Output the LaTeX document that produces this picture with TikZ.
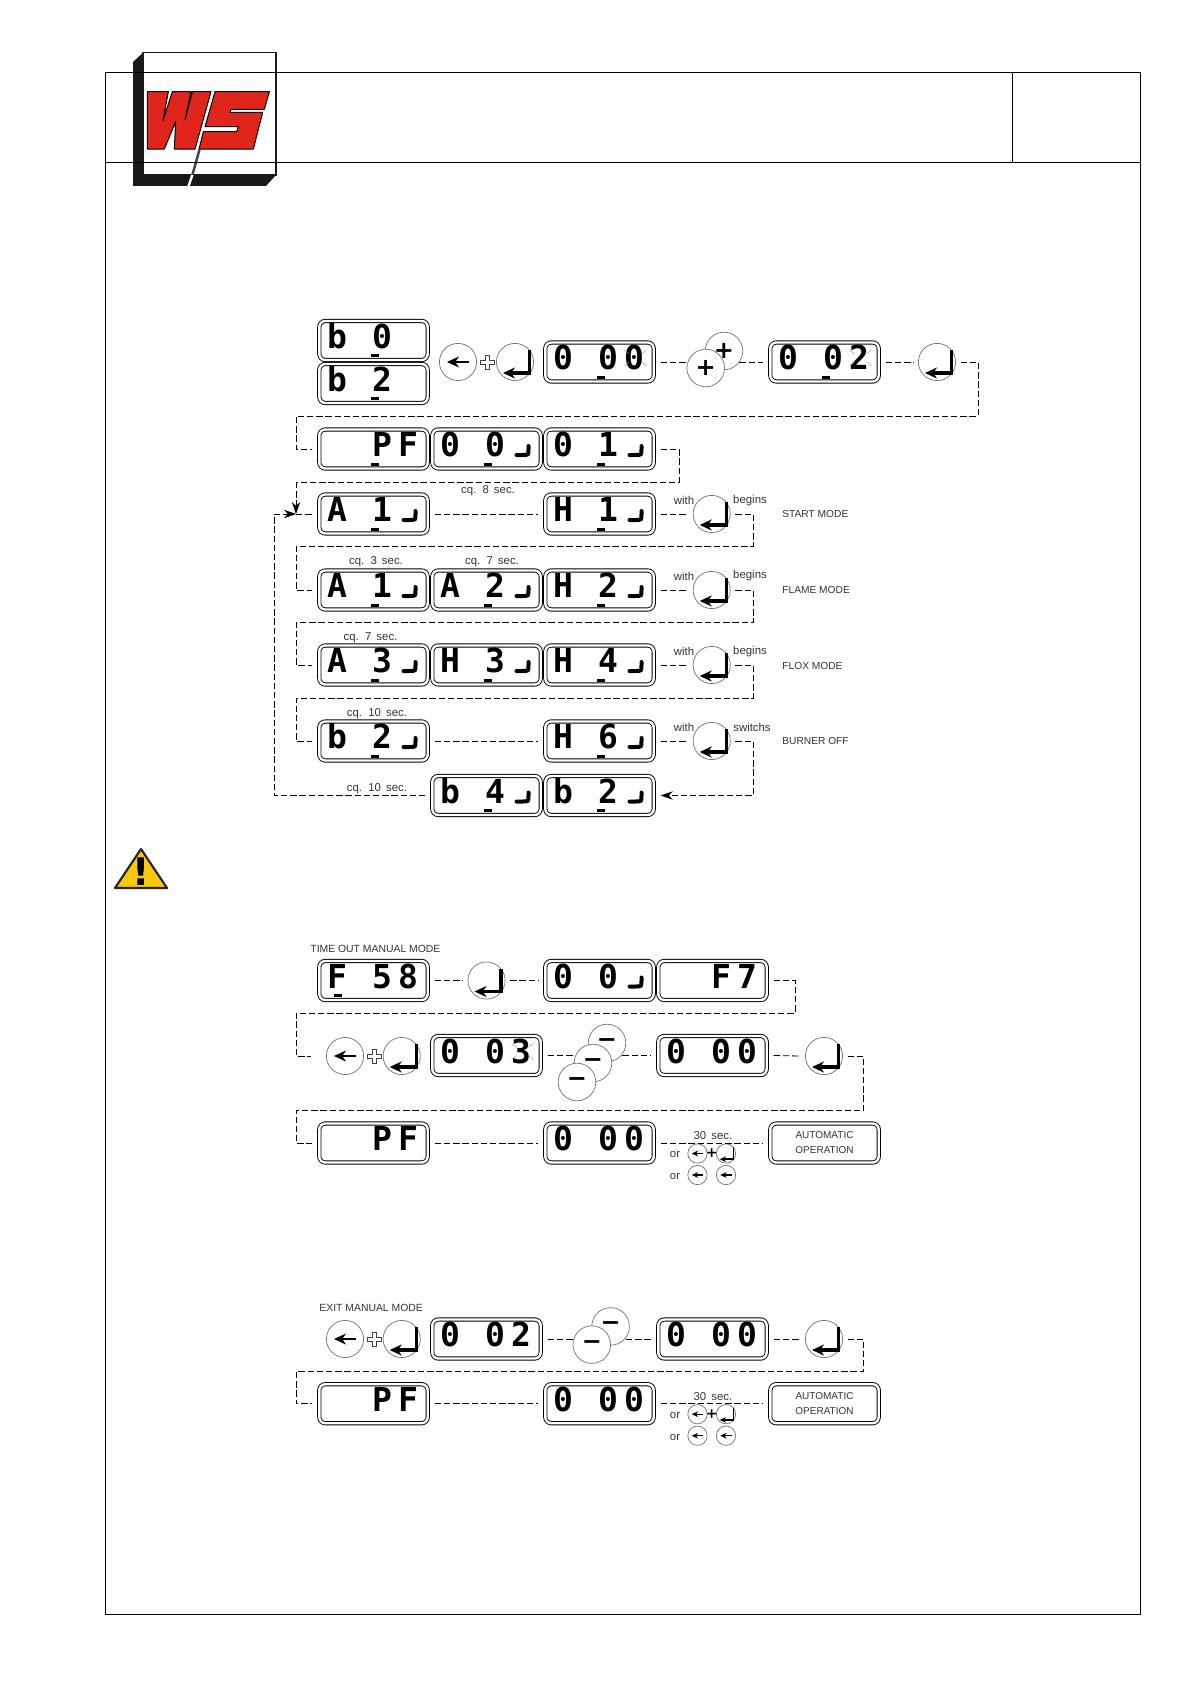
\documentclass[tikz,border=0pt]{standalone}
\usepackage{fontspec}
\setmainfont{Liberation Sans}
\newfontfamily\lcdfont{DejaVu Sans Mono}
\newfontfamily\keyfont{DejaVu Sans}
\usetikzlibrary{
    arrows.meta,
    backgrounds
}
\definecolor{wsred}{rgb}{0.88, 0.15, 0.11}
\definecolor{signyellow}{rgb}{0.98, 0.78, 0.05}
\newcommand{\notefont}{\fontsize{5.7}{6}\selectfont\setlength{\spaceskip}{0.45em}}
\tikzstyle{lcd} = [
    draw=black,
    double,
    double distance=1.2pt,
    line width=0.45pt,
    rounded corners=3pt,
    minimum width=54.2pt,
    minimum height=19.5pt,
    inner sep=0pt,
    outer sep=3.5pt,
    font=\fontsize{16.5}{16.5}\lcdfont\bfseries
]
\tikzstyle{keybtn} = [
    circle,
    draw=black!55,
    fill=white,
    line width=0.35pt,
    inner sep=0pt,
    outer sep=2.5pt
]
\tikzstyle{keyop} = [
    keybtn,
    outer sep=0pt,
    minimum size=18.8pt,
    font=\fontsize{12}{12}\keyfont\bfseries
]
\tikzstyle{conn} = [
    draw=black,
    line width=0.4pt,
    dash pattern=on 3.2pt off 1.4pt
]
\tikzstyle{tip} = [
    -{Stealth[length=6pt,width=4.2pt]}
]
\tikzstyle{note} = [
    inner sep=0pt,
    yshift=-0.7pt,
    text=black!80,
    font=\notefont
]
\tikzstyle{modetxt} = [
    inner sep=0pt,
    anchor=west,
    yshift=-0.5pt,
    text=black!80,
    font=\fontsize{5.1}{6}\selectfont
]
\tikzstyle{segline} = [
    line width=2pt,
    line cap=round
]
\tikzstyle{blinkline} = [
    draw=black!45,
    line width=0.2pt
]
\tikzstyle{frameline} = [
    draw=black,
    line width=0.5pt
]
% one display: name, left edge, middle height, three cells
\newcommand{\lcd}[6]{
    \node[lcd] (#1) at (#2+56.5,#3)
        {\smash{\raisebox{-3.8pt}{\makebox[0pt]{#4}\hspace{22.5pt}\makebox[0pt]{#5}\hspace{13pt}\makebox[0pt]{#6}\kern1pt}}};
}
\newcommand{\lcdcursor}[2][0]{
    \fill[shift={(#2.center)}] (#1-3,13.7) rectangle (#1+5,16.7);
}
\newcommand{\lcdhook}[1]{
    \draw[segline,shift={(#1.center)}] (42,-3) -- (42,0) .. controls (42,6) .. (36,6) -- (30,6);
}
\newcommand{\lcdblink}[1]{
    \foreach \sx in {-1,1} \foreach \sy in {-1,1}
        \draw[blinkline,shift={(#1.center)}] (36+\sx*11,-4+\sy*8) -- (36+\sx*6,-4+\sy*4);
}
% keys: [scale] name, x, y
\newcommand{\keyArrow}[4][1]{
    \node[keybtn,minimum size=#1*18.6pt] (#2) at (#3,#4) {};
    \draw[line width=#1*1.3pt,-{Stealth[length=6pt,width=5.5pt,scale=#1]},shift={(#2.center)},scale=#1] (11,0) -- (-11,0);
}
\newcommand{\keyEnter}[4][1]{
    \node[keybtn,minimum size=#1*18.6pt] (#2) at (#3,#4) {};
    \draw[line width=#1*1.6pt,-{Stealth[length=6pt,width=5.5pt,scale=#1]},shift={(#2.center)},scale=#1] (14.5,-12) -- (14.5,11) -- (-12,11);
}
\newcommand{\plusmark}[3]{
    \coordinate (#1) at (#2,#3);
    \draw[draw=black!75,fill=white,line width=0.3pt,shift={(#1)}] (-2,-7) -- (2,-7) -- (2,-2) -- (7,-2) -- (7,2) -- (2,2) -- (2,7) -- (-2,7) -- (-2,2) -- (-7,2) -- (-7,-2) -- (-2,-2) -- cycle;
}
% the block at the end of a manual mode row
\newcommand{\autoblock}[2]{
    \node[lcd,font=\fontsize{5}{7.5}\selectfont,align=center,text=black!80] (lcdAuto#1) at (824.5,#2) {AUTOMATIC\\OPERATION};
    \node[note] (lblThirty#1) at (713,#2-9) {30 sec.};
    \node[note] (lblOrA#1) at (675,#2+10) {or};
    \node[note] (lblOrB#1) at (675,#2+32) {or};
    \keyArrow[0.52]{smallArrowA#1}{697.5}{#2+10.5}
    \node[inner sep=0pt,font=\fontsize{7}{7}\keyfont\bfseries] (smallPlus#1) at (711.7,#2+10.5) {+};
    \keyEnter[0.52]{smallEnter#1}{726}{#2+10.5}
    \keyArrow[0.52]{smallArrowB#1}{697.5}{#2+32}
    \keyArrow[0.52]{smallArrowC#1}{726}{#2+32}
}

\begin{document}
\begin{tikzpicture}[x=0.5pt, y=-0.5pt]
    \useasboundingbox (0,0) rectangle (1190,1684);

    % Logo
    \fill[black!90] (133,62) -- (143,52.7) -- (143,175) -- (276,175) -- (266,186) -- (133,186) -- cycle;
    \draw[black!90, line width=0.8pt, fill=white] (143,52.7) rectangle (276,175);
    \begin{scope}[shift={(135,80)}, x=0.1667pt, y=-0.1667pt]
        \draw[fill=wsred, line width=0.5pt, line join=round] (37,35) -- (100,35) -- (84,122) -- (112,35) -- (168,35) -- (150,120) -- (172,35) -- (228,35) -- (180,207) -- (118,207) -- (122,125) -- (88,207) -- (37,207) -- cycle;
        \draw[fill=wsred, line width=0.5pt, line join=round] (240,35) -- (403,35) -- (388,88) -- (288,88) -- (285,97) -- (383,97) -- (355,207) -- (192,207) -- (205,155) -- (305,155) -- (310,140) -- (210,140) -- cycle;
        \draw[black!75, line width=1.2pt] (194,207) -- (172,285);
        \draw[white, line width=1.2pt] (172,285) -- (160,320);
    \end{scope}

    % Page frame
    \draw[frameline] (105,72.7) rectangle (1140.6,1614);
    \draw[frameline] (105,162.3) -- (1140.6,162.3);
    \draw[frameline] (1012,72.7) -- (1012,162.3);

    % Start of the sequence
    \lcd{lcdBnull}{317}{340.5}{b}{0}{}
    \lcdcursor{lcdBnull}
    \lcd{lcdBtwo}{317}{383.5}{b}{2}{}
    \lcdcursor{lcdBtwo}
    \keyArrow{keyArrowA}{458}{362}
    \plusmark{plusA}{487.7}{362}
    \keyEnter{keyEnterA}{515}{362}
    \lcd{lcdNullA}{543}{362}{0}{0}{0}
    \lcdcursor{lcdNullA}
    \lcdblink{lcdNullA}
    \node[keyop] (keyPlusA) at (724,351) {+};
    \node[keyop] (keyPlusB) at (705.7,368) {+};
    \lcd{lcdNullB}{768}{362}{0}{0}{2}
    \lcdcursor{lcdNullB}
    \lcdblink{lcdNullB}
    \keyEnter{keyEnterB}{937}{362}
    \coordinate (turnA) at (978,416);
    \coordinate (turnB) at (296,416);
    \draw[conn] (lcdNullA.east) -- (keyPlusB.west |- lcdNullA.east);
    \draw[conn] (keyPlusA.-35 |- lcdNullB.west) -- (lcdNullB.west);
    \draw[conn] (lcdNullB.east) -- (keyEnterB.west);

    % Second row
    \lcd{lcdPF}{317}{449}{}{P}{F}
    \lcdcursor{lcdPF}
    \lcd{lcdNullC}{430}{449}{0}{0}{}
    \lcdcursor{lcdNullC}
    \lcdhook{lcdNullC}
    \lcd{lcdNullD}{543}{449}{0}{1}{}
    \lcdcursor{lcdNullD}
    \lcdhook{lcdNullD}
    \draw[conn] (keyEnterB.east) -| (turnA) -- (turnB) |- (lcdPF.west);
    \coordinate (turnC) at (679,482);
    \coordinate (turnD) at (296,482);
    \coordinate (turnE) at (296,514);
    \coordinate (turnF) at (274,514);
    \draw[conn] (lcdNullD.east) -| (turnC) -- (turnD);
    \draw[conn, tip] (turnD) -- (turnE);

    % Start mode
    \node[note] (lblEight) at (488,489) {cq. 8 sec.};
    \lcd{lcdAone}{317}{514}{A}{1}{}
    \lcdcursor{lcdAone}
    \lcdhook{lcdAone}
    \lcd{lcdHone}{543}{514}{H}{1}{}
    \lcdcursor{lcdHone}
    \lcdhook{lcdHone}
    \keyEnter{keyEnterC}{711.7}{514}
    \node[note] (lblWithA) at (684,499) {with};
    \node[note] (lblBeginsA) at (750,499) {begins};
    \node[modetxt] (lblStart) at (782,513) {START MODE};
    \draw[conn] (turnE) -- (lcdAone.west);
    \draw[conn] (lcdAone.east) -- (lcdHone.west);
    \draw[conn] (lcdHone.east) -- (keyEnterC.west);
    \coordinate (turnG) at (753,546);
    \coordinate (turnH) at (296,546);

    % Flame mode
    \node[note] (lblThree) at (376,560.6) {cq. 3 sec.};
    \node[note] (lblSeven) at (492,560.6) {cq. 7 sec.};
    \lcd{lcdAoneB}{317}{590}{A}{1}{}
    \lcdcursor{lcdAoneB}
    \lcdhook{lcdAoneB}
    \lcd{lcdAtwo}{430}{590}{A}{2}{}
    \lcdcursor{lcdAtwo}
    \lcdhook{lcdAtwo}
    \lcd{lcdHtwo}{543}{590}{H}{2}{}
    \lcdcursor{lcdHtwo}
    \lcdhook{lcdHtwo}
    \keyEnter{keyEnterD}{711.7}{590}
    \node[note] (lblWithB) at (684,574.6) {with};
    \node[note] (lblBeginsB) at (750,574.6) {begins};
    \node[modetxt] (lblFlame) at (782,589) {FLAME MODE};
    \draw[conn] (keyEnterC.east) -| (turnG) -- (turnH) |- (lcdAoneB.west);
    \draw[conn] (lcdHtwo.east) -- (keyEnterD.west);
    \coordinate (turnI) at (753,622.5);
    \coordinate (turnJ) at (296,622.5);

    % Flox mode
    \node[note] (lblSevenB) at (370.5,636) {cq. 7 sec.};
    \lcd{lcdAthree}{317}{665}{A}{3}{}
    \lcdcursor{lcdAthree}
    \lcdhook{lcdAthree}
    \lcd{lcdHthree}{430}{665}{H}{3}{}
    \lcdcursor{lcdHthree}
    \lcdhook{lcdHthree}
    \lcd{lcdHfour}{543}{665}{H}{4}{}
    \lcdcursor{lcdHfour}
    \lcdhook{lcdHfour}
    \keyEnter{keyEnterE}{711.7}{665}
    \node[note] (lblWithC) at (684,650) {with};
    \node[note] (lblBeginsC) at (750,650) {begins};
    \node[modetxt] (lblFlox) at (782,664.5) {FLOX MODE};
    \draw[conn] (keyEnterD.east) -| (turnI) -- (turnJ) |- (lcdAthree.west);
    \draw[conn] (lcdHfour.east) -- (keyEnterE.west);
    \coordinate (turnK) at (753,698);
    \coordinate (turnL) at (296,698);

    % Burner off
    \node[note] (lblTen) at (377,712) {cq. 10 sec.};
    \lcd{lcdBtwoB}{317}{741}{b}{2}{}
    \lcdcursor{lcdBtwoB}
    \lcdhook{lcdBtwoB}
    \lcd{lcdHsix}{543}{741}{H}{6}{}
    \lcdcursor{lcdHsix}
    \lcdhook{lcdHsix}
    \keyEnter{keyEnterF}{711.7}{741}
    \node[note] (lblWithD) at (684,726) {with};
    \node[note] (lblSwitchs) at (752,726) {switchs};
    \node[modetxt] (lblBurner) at (782,740) {BURNER OFF};
    \draw[conn] (keyEnterE.east) -| (turnK) -- (turnL) |- (lcdBtwoB.west);
    \draw[conn] (lcdBtwoB.east) -- (lcdHsix.west);
    \draw[conn] (lcdHsix.east) -- (keyEnterF.west);

    % Last row, back to the start mode
    \node[note] (lblTenB) at (377,787) {cq. 10 sec.};
    \lcd{lcdBfour}{430}{795.5}{b}{4}{}
    \lcdcursor{lcdBfour}
    \lcdhook{lcdBfour}
    \lcd{lcdBtwoC}{543}{795.5}{b}{2}{}
    \lcdcursor{lcdBtwoC}
    \lcdhook{lcdBtwoC}
    \coordinate (turnM) at (753,795.5);
    \draw[conn, tip] (keyEnterF.east) -| (turnM) -- (lcdBtwoC.east);
    \draw[conn, tip] (lcdBfour.west) -| (turnF) -- (turnE);

    % Warning sign
    \draw[black!85, fill=signyellow, line width=1.1pt, line join=round] (141,849) -- (167,888) -- (115,888) -- cycle;
    \node[inner sep=0pt, font=\fontsize{19}{19}\keyfont\bfseries] (lblWarn) at (141,872) {!};

    % Time out manual mode
    \node[modetxt, font=\fontsize{5.2}{6}\selectfont] (lblTimeout) at (310,948) {TIME OUT MANUAL MODE};
    \lcd{lcdFfive}{317}{980.5}{F}{5}{8}
    \lcdcursor[-37]{lcdFfive}
    \keyEnter{keyEnterG}{486.5}{980.5}
    \lcd{lcdNullE}{543}{980.5}{0}{0}{}
    \lcdhook{lcdNullE}
    \lcd{lcdFseven}{656}{980.5}{}{F}{7}
    \draw[conn] (lcdFfive.east) -- (keyEnterG.west);
    \draw[conn] (keyEnterG.east) -- (lcdNullE.west);
    \coordinate (turnN) at (795,1013);
    \coordinate (turnO) at (296,1013);

    \keyArrow{keyArrowB}{345}{1056}
    \plusmark{plusB}{374}{1056}
    \keyEnter{keyEnterH}{401.7}{1056}
    \lcd{lcdNullF}{430}{1055.5}{0}{0}{3}
    \lcdblink{lcdNullF}
    \node[keyop] (keyMinusA) at (607,1043) {−};
    \node[keyop] (keyMinusB) at (593,1063) {−};
    \node[keyop] (keyMinusC) at (577,1082) {−};
    \lcd{lcdNullG}{656}{1055.5}{0}{0}{0}
    \keyEnter{keyEnterI}{824}{1056}
    \draw[conn] (lcdFseven.east) -| (turnN) -- (turnO) |- ([xshift=-5pt]keyArrowB.west);
    \draw[conn] (lcdNullF.east) -- (keyMinusB.west |- lcdNullF.east);
    \draw[conn] (keyMinusA.-35 |- lcdNullG.west) -- (lcdNullG.west);
    \draw[conn] (lcdNullG.east) -- (keyEnterI.west);
    \coordinate (turnP) at (863.5,1110.5);
    \coordinate (turnQ) at (296,1110.5);

    \lcd{lcdPFb}{317}{1143}{}{P}{F}
    \lcd{lcdNullH}{543}{1143}{0}{0}{0}
    \autoblock{A}{1143}
    \draw[conn] (keyEnterI.east) -| (turnP) -- (turnQ) |- (lcdPFb.west);
    \draw[conn] (lcdPFb.east) -- (lcdNullH.west);
    \draw[conn] (lcdNullH.east) -- (lcdAutoA.west);

    % Exit manual mode
    \node[modetxt, font=\fontsize{5.2}{6}\selectfont] (lblExit) at (319,1307) {EXIT MANUAL MODE};
    \keyArrow{keyArrowC}{345}{1339}
    \plusmark{plusC}{374}{1339}
    \keyEnter{keyEnterJ}{401.7}{1339}
    \lcd{lcdNullI}{430}{1339}{0}{0}{2}
    \node[keyop] (keyMinusD) at (610.6,1326.4) {−};
    \node[keyop] (keyMinusE) at (591.8,1344.6) {−};
    \lcd{lcdNullJ}{656}{1339}{0}{0}{0}
    \keyEnter{keyEnterK}{824}{1339}
    \draw[conn] (lcdNullI.east) -- (keyMinusE.west |- lcdNullI.east);
    \draw[conn] (keyMinusD.-35 |- lcdNullJ.west) -- (lcdNullJ.west);
    \draw[conn] (lcdNullJ.east) -- (keyEnterK.west);
    \coordinate (turnR) at (863.5,1371.5);
    \coordinate (turnS) at (296,1371.5);

    \lcd{lcdPFc}{317}{1403.7}{}{P}{F}
    \lcd{lcdNullK}{543}{1403.7}{0}{0}{0}
    \autoblock{B}{1403.7}
    \draw[conn] (keyEnterK.east) -| (turnR) -- (turnS) |- (lcdPFc.west);
    \draw[conn] (lcdPFc.east) -- (lcdNullK.west);
    \draw[conn] (lcdNullK.east) -- (lcdAutoB.west);
\end{tikzpicture}
\end{document}
